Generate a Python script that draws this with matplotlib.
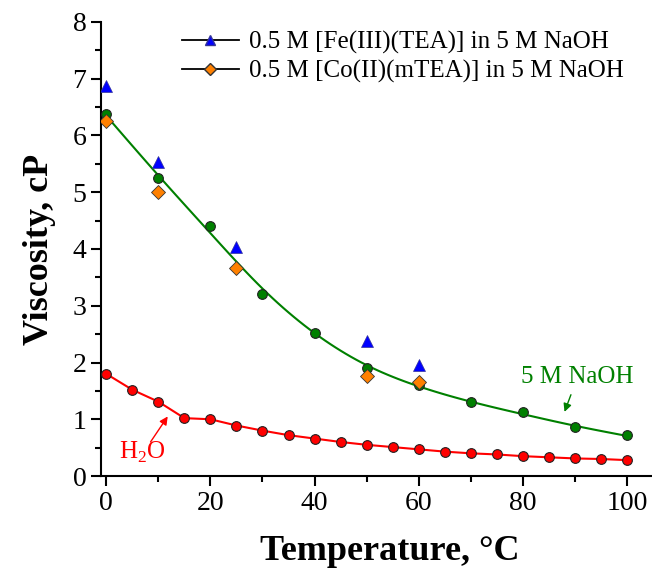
import numpy as np
import matplotlib.pyplot as plt
from matplotlib.lines import Line2D

plt.rcParams['font.family'] = ['Liberation Serif', 'DejaVu Serif']
plt.rcParams['mathtext.fontset'] = 'custom'
plt.rcParams['mathtext.rm'] = 'Liberation Serif'

# 5 M NaOH
t_naoh = [0, 10, 20, 30, 40, 50, 60, 70, 80, 90, 100]
v_naoh = [6.37, 5.25, 4.40, 3.20, 2.52, 1.91, 1.61, 1.31, 1.12, 0.86, 0.72]

# water
t_h2o = [0, 5, 10, 15, 20, 25, 30, 35, 40, 45, 50, 55, 60, 65, 70, 75, 80, 85, 90, 95, 100]
v_h2o = [1.80, 1.52, 1.31, 1.02, 1.00, 0.89, 0.80, 0.72, 0.66, 0.60, 0.55, 0.51, 0.47,
         0.43, 0.40, 0.38, 0.35, 0.33, 0.31, 0.30, 0.28]

# complexes
t_fe = [0, 10, 25, 50, 60]
v_fe = [6.87, 5.53, 4.03, 2.38, 1.96]
t_co = [0, 10, 25, 50, 60]
v_co = [6.25, 5.01, 3.66, 1.77, 1.65]


def smooth(x, y, lam=400.0):
    # penalised smoothing curve on a 1-degree grid (whittaker style)
    grid = np.arange(x[0], x[-1] + 1, 1.0)
    n = len(grid)
    w = np.zeros(n)
    target = np.zeros(n)
    for xi, yi in zip(x, y):
        k = int(round(xi - grid[0]))
        w[k] = 1.0
        target[k] = yi
    D = np.diff(np.eye(n), 2, axis=0)
    z = np.linalg.solve(np.diag(w) + lam * D.T @ D, w * target)
    return grid, z


fig = plt.figure(figsize=(6.52, 5.69), dpi=100)
ax = fig.add_axes([0.155, 0.1634, 0.845, 0.798])

sx, sy = smooth(t_naoh, v_naoh)
ax.plot(sx, sy, color='#008000', lw=1.5, zorder=2)
ax.plot(t_naoh, v_naoh, 'o', color='#008000', mec='#222222', mew=0.8, ms=7, zorder=3)

ax.plot(t_h2o, v_h2o, '-', color='#ff0000', lw=1.5, zorder=2)
ax.plot(t_h2o, v_h2o, 'o', color='#ff0000', mec='#222222', mew=0.8, ms=7, zorder=3)

ax.plot(t_fe, v_fe, '^', color='#0000ff', mec='#333399', mew=0.5, ms=8.5, zorder=4)
ax.plot(t_co, v_co, 'D', color='#ff8000', mec='#333333', mew=0.6, ms=7, zorder=4)

# legend handles drawn as line-marker-line in black
h1 = Line2D([], [], color='black', lw=1.3, marker='^', mfc='#0000ff', mec='#333399', ms=7.5)
h2 = Line2D([], [], color='black', lw=1.3, marker='D', mfc='#ff8000', mec='#333333', ms=6)
ax.legend([h1, h2], ['0.5 M [Fe(III)(TEA)] in 5 M NaOH', '0.5 M [Co(II)(mTEA)] in 5 M NaOH'],
          loc='upper right', bbox_to_anchor=(0.99, 1.03), frameon=False, fontsize=18,
          handlelength=2.3, handletextpad=0.4, labelspacing=0.25)

ax.annotate('5 M NaOH', xy=(88, 1.13), xytext=(90.5, 1.55), color='#008000', fontsize=18,
            ha='center', va='bottom',
            arrowprops=dict(arrowstyle='-|>', color='#008000', lw=1, shrinkA=3, shrinkB=0,
                            mutation_scale=12))
ax.annotate('', xy=(11.8, 1.05), xytext=(8.5, 0.6),
            arrowprops=dict(arrowstyle='-|>', color='#ff0000', lw=1, shrinkA=0, shrinkB=0,
                            mutation_scale=12))
ax.text(7.0, 0.42, 'H$_2$O', color='#ff0000', fontsize=18, ha='center', va='center')

ax.set_xlim(-1, 104.8)
ax.set_ylim(0, 8)
ax.set_xticks([0, 20, 40, 60, 80, 100])
ax.set_xticks([10, 30, 50, 70, 90], minor=True)
ax.set_yticks(range(0, 9))
ax.set_yticks(np.arange(0.5, 8, 1), minor=True)
ax.tick_params(axis='both', which='major', direction='out', length=7, width=1.5, labelsize=20)
ax.tick_params(axis='both', which='minor', direction='out', length=4, width=1.5)
ax.spines['top'].set_visible(False)
ax.spines['right'].set_visible(False)
ax.spines['left'].set_linewidth(1.5)
ax.spines['bottom'].set_linewidth(1.5)

ax.set_xlabel('Temperature, \u00b0C', fontsize=26, fontweight='bold')
ax.set_ylabel('Viscosity, cP', fontsize=26, fontweight='bold')
ax.xaxis.set_label_coords(0.524, -0.13)
ax.yaxis.set_label_coords(-0.082, 0.5)

fig.savefig('out.png', dpi=100)
